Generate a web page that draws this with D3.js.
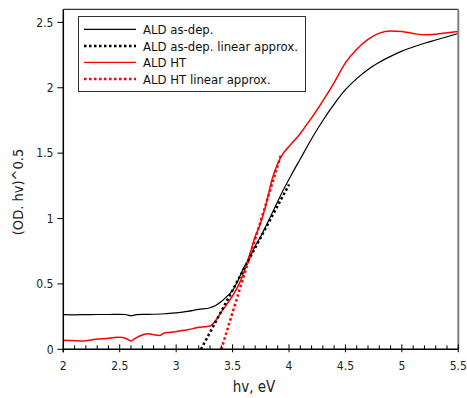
<!DOCTYPE html>
<html><head><meta charset="utf-8">
<script src="https://cdn.jsdelivr.net/npm/d3@7"></script>
<style>
body{margin:0;background:#fff;}
text{font-family:"DejaVu Sans Condensed","DejaVu Sans",sans-serif;}
</style></head>
<body><svg id="c" width="467" height="398"></svg>
<script>
// Data
const asDepX = [2.0,2.1,2.2,2.3,2.4,2.5,2.55,2.6,2.65,2.7,2.8,2.9,3.0,3.1,3.2,3.3,3.35,3.4,3.45,3.5,3.55,3.6,3.65,3.7,3.75,3.8,3.85,3.9,3.95,4.0,4.05,4.1,4.2,4.3,4.4,4.5,4.6,4.7,4.8,4.9,5.0,5.1,5.2,5.3,5.4,5.5];
const asDepY = [0.265,0.264,0.265,0.266,0.266,0.267,0.266,0.257,0.265,0.267,0.268,0.272,0.278,0.290,0.305,0.318,0.335,0.365,0.405,0.450,0.530,0.625,0.700,0.790,0.865,0.950,1.040,1.130,1.220,1.300,1.380,1.455,1.610,1.750,1.875,1.985,2.070,2.140,2.195,2.240,2.280,2.312,2.340,2.365,2.390,2.415];
const htX = [2.0,2.05,2.1,2.15,2.2,2.25,2.3,2.35,2.4,2.45,2.5,2.55,2.6,2.63,2.7,2.75,2.8,2.85,2.9,2.95,3.0,3.05,3.1,3.15,3.2,3.25,3.3,3.35,3.4,3.45,3.5,3.55,3.6,3.65,3.7,3.75,3.8,3.85,3.9,3.95,4.0,4.05,4.1,4.15,4.2,4.3,4.4,4.5,4.6,4.7,4.8,4.9,5.0,5.1,5.2,5.3,5.4,5.5];
const htY = [0.069,0.068,0.066,0.064,0.066,0.072,0.078,0.080,0.085,0.090,0.092,0.085,0.064,0.080,0.110,0.118,0.112,0.106,0.127,0.130,0.135,0.143,0.150,0.158,0.168,0.172,0.178,0.220,0.285,0.345,0.410,0.485,0.590,0.720,0.860,0.970,1.120,1.300,1.420,1.500,1.550,1.600,1.650,1.710,1.770,1.900,2.040,2.190,2.295,2.370,2.418,2.435,2.430,2.415,2.405,2.410,2.420,2.430];
const asDepLinX = [3.22,4.0];
const asDepLinY = [0,1.26];
const htLinX = [3.40,3.93];
const htLinY = [0,1.49];
const xTicks = [2,2.5,3,3.5,4,4.5,5,5.5];
const yTicks = [0,0.5,1,1.5,2,2.5];
const legendLabels = ["ALD as-dep.","ALD as-dep. linear approx.","ALD HT","ALD HT linear approx."];

const svg = d3.select("#c");
const x = d3.scaleLinear().domain([2,5.5]).range([63.3,458.3]);
const y = d3.scaleLinear().domain([0,2.6]).range([349.3,9.3]);
const zip = (a,b)=>a.map((v,i)=>[v,b[i]]);
const line = d3.line().x(d=>x(d[0])).y(d=>y(d[1])).curve(d3.curveMonotoneX);
const lineL = d3.line().x(d=>x(d[0])).y(d=>y(d[1]));

const series = [
  {d:zip(asDepX,asDepY), color:"#000", dash:null, w:1.2, gen:line},
  {d:zip(asDepLinX,asDepLinY), color:"#000", dash:"2.5,2.5", w:2.5, gen:lineL},
  {d:zip(htX,htY), color:"#ff0000", dash:null, w:1.5, gen:line},
  {d:zip(htLinX,htLinY), color:"#ff0000", dash:"2.5,2.5", w:2.5, gen:lineL}
];
const plot = svg.append("g");
[0,2,1,3].forEach(i=>{
  const s = series[i];
  plot.append("path").attr("d", s.gen(s.d)).attr("fill","none")
    .attr("stroke", s.color).attr("stroke-width", s.w)
    .attr("stroke-dasharray", s.dash);
});

// frame
svg.append("line").attr("x1",x(2)).attr("x2",x(5.5)).attr("y1",y(2.6)).attr("y2",y(2.6)).attr("stroke","#000").attr("stroke-width",1);
svg.append("line").attr("x1",x(5.5)).attr("x2",x(5.5)).attr("y1",y(2.6)).attr("y2",y(0)).attr("stroke","#808080").attr("stroke-width",2);

// x axis
const xMinor = d3.range(20,56).map(v=>v/10).filter(v=>!xTicks.some(t=>Math.abs(t-v)<1e-6));
const xa = svg.append("g");
xa.append("line").attr("x1",x(2)).attr("x2",x(5.5)).attr("y1",y(0)).attr("y2",y(0)).attr("stroke","#000").attr("stroke-width",1.5);
xa.selectAll(".mn").data(xMinor).join("line").attr("x1",d=>x(d)).attr("x2",d=>x(d)).attr("y1",y(0)).attr("y2",y(0)-4).attr("stroke","#000");
xa.selectAll(".mj").data(xTicks).join("line").attr("x1",d=>x(d)).attr("x2",d=>x(d)).attr("y1",y(0)+3).attr("y2",y(0)-5).attr("stroke","#000");
xa.selectAll("text").data(xTicks).join("text").attr("x",d=>x(d)).attr("y",369.5).attr("text-anchor","middle").attr("font-size",12).attr("fill","#222").text(d=>d3.format("")(d));

// y axis
const ya = svg.append("g");
ya.append("line").attr("x1",x(2)).attr("x2",x(2)).attr("y1",y(0)+3).attr("y2",y(2.6)).attr("stroke","#000").attr("stroke-width",1.5);
ya.selectAll("line.t").data(yTicks).join("line").attr("class","t").attr("x1",x(2)-6).attr("x2",x(2)).attr("y1",d=>y(d)).attr("y2",d=>y(d)).attr("stroke","#000");
ya.selectAll("text").data(yTicks).join("text").attr("x",53.5).attr("y",d=>y(d)+4.3).attr("text-anchor","end").attr("font-size",12).attr("fill","#222").text(d=>d3.format("")(d));

// axis titles
svg.append("text").attr("x",254).attr("y",392).attr("text-anchor","middle").attr("font-size",15).attr("fill","#222").text("hv, eV");
svg.append("text").attr("transform","translate(23,192) rotate(-90)").attr("text-anchor","middle").attr("font-size",14.5).attr("fill","#222").text("(OD. hv)^0.5");

// legend
const lg = svg.append("g");
lg.append("rect").attr("x",78.5).attr("y",16.5).attr("width",227).attr("height",75).attr("fill","#fff").attr("stroke","#333").attr("stroke-width",1);
const rowsY = [29.3,46,62.3,79];
legendLabels.forEach((lab,i)=>{
  const s = series[i];
  lg.append("line").attr("x1",84).attr("x2",136).attr("y1",rowsY[i]).attr("y2",rowsY[i])
    .attr("stroke",s.color).attr("stroke-width", s.dash?2.5:1.2).attr("stroke-dasharray",s.dash);
  lg.append("text").attr("x",143).attr("y",rowsY[i]+4.5).attr("font-size",13).attr("fill","#111").text(lab);
});
</script></body></html>
